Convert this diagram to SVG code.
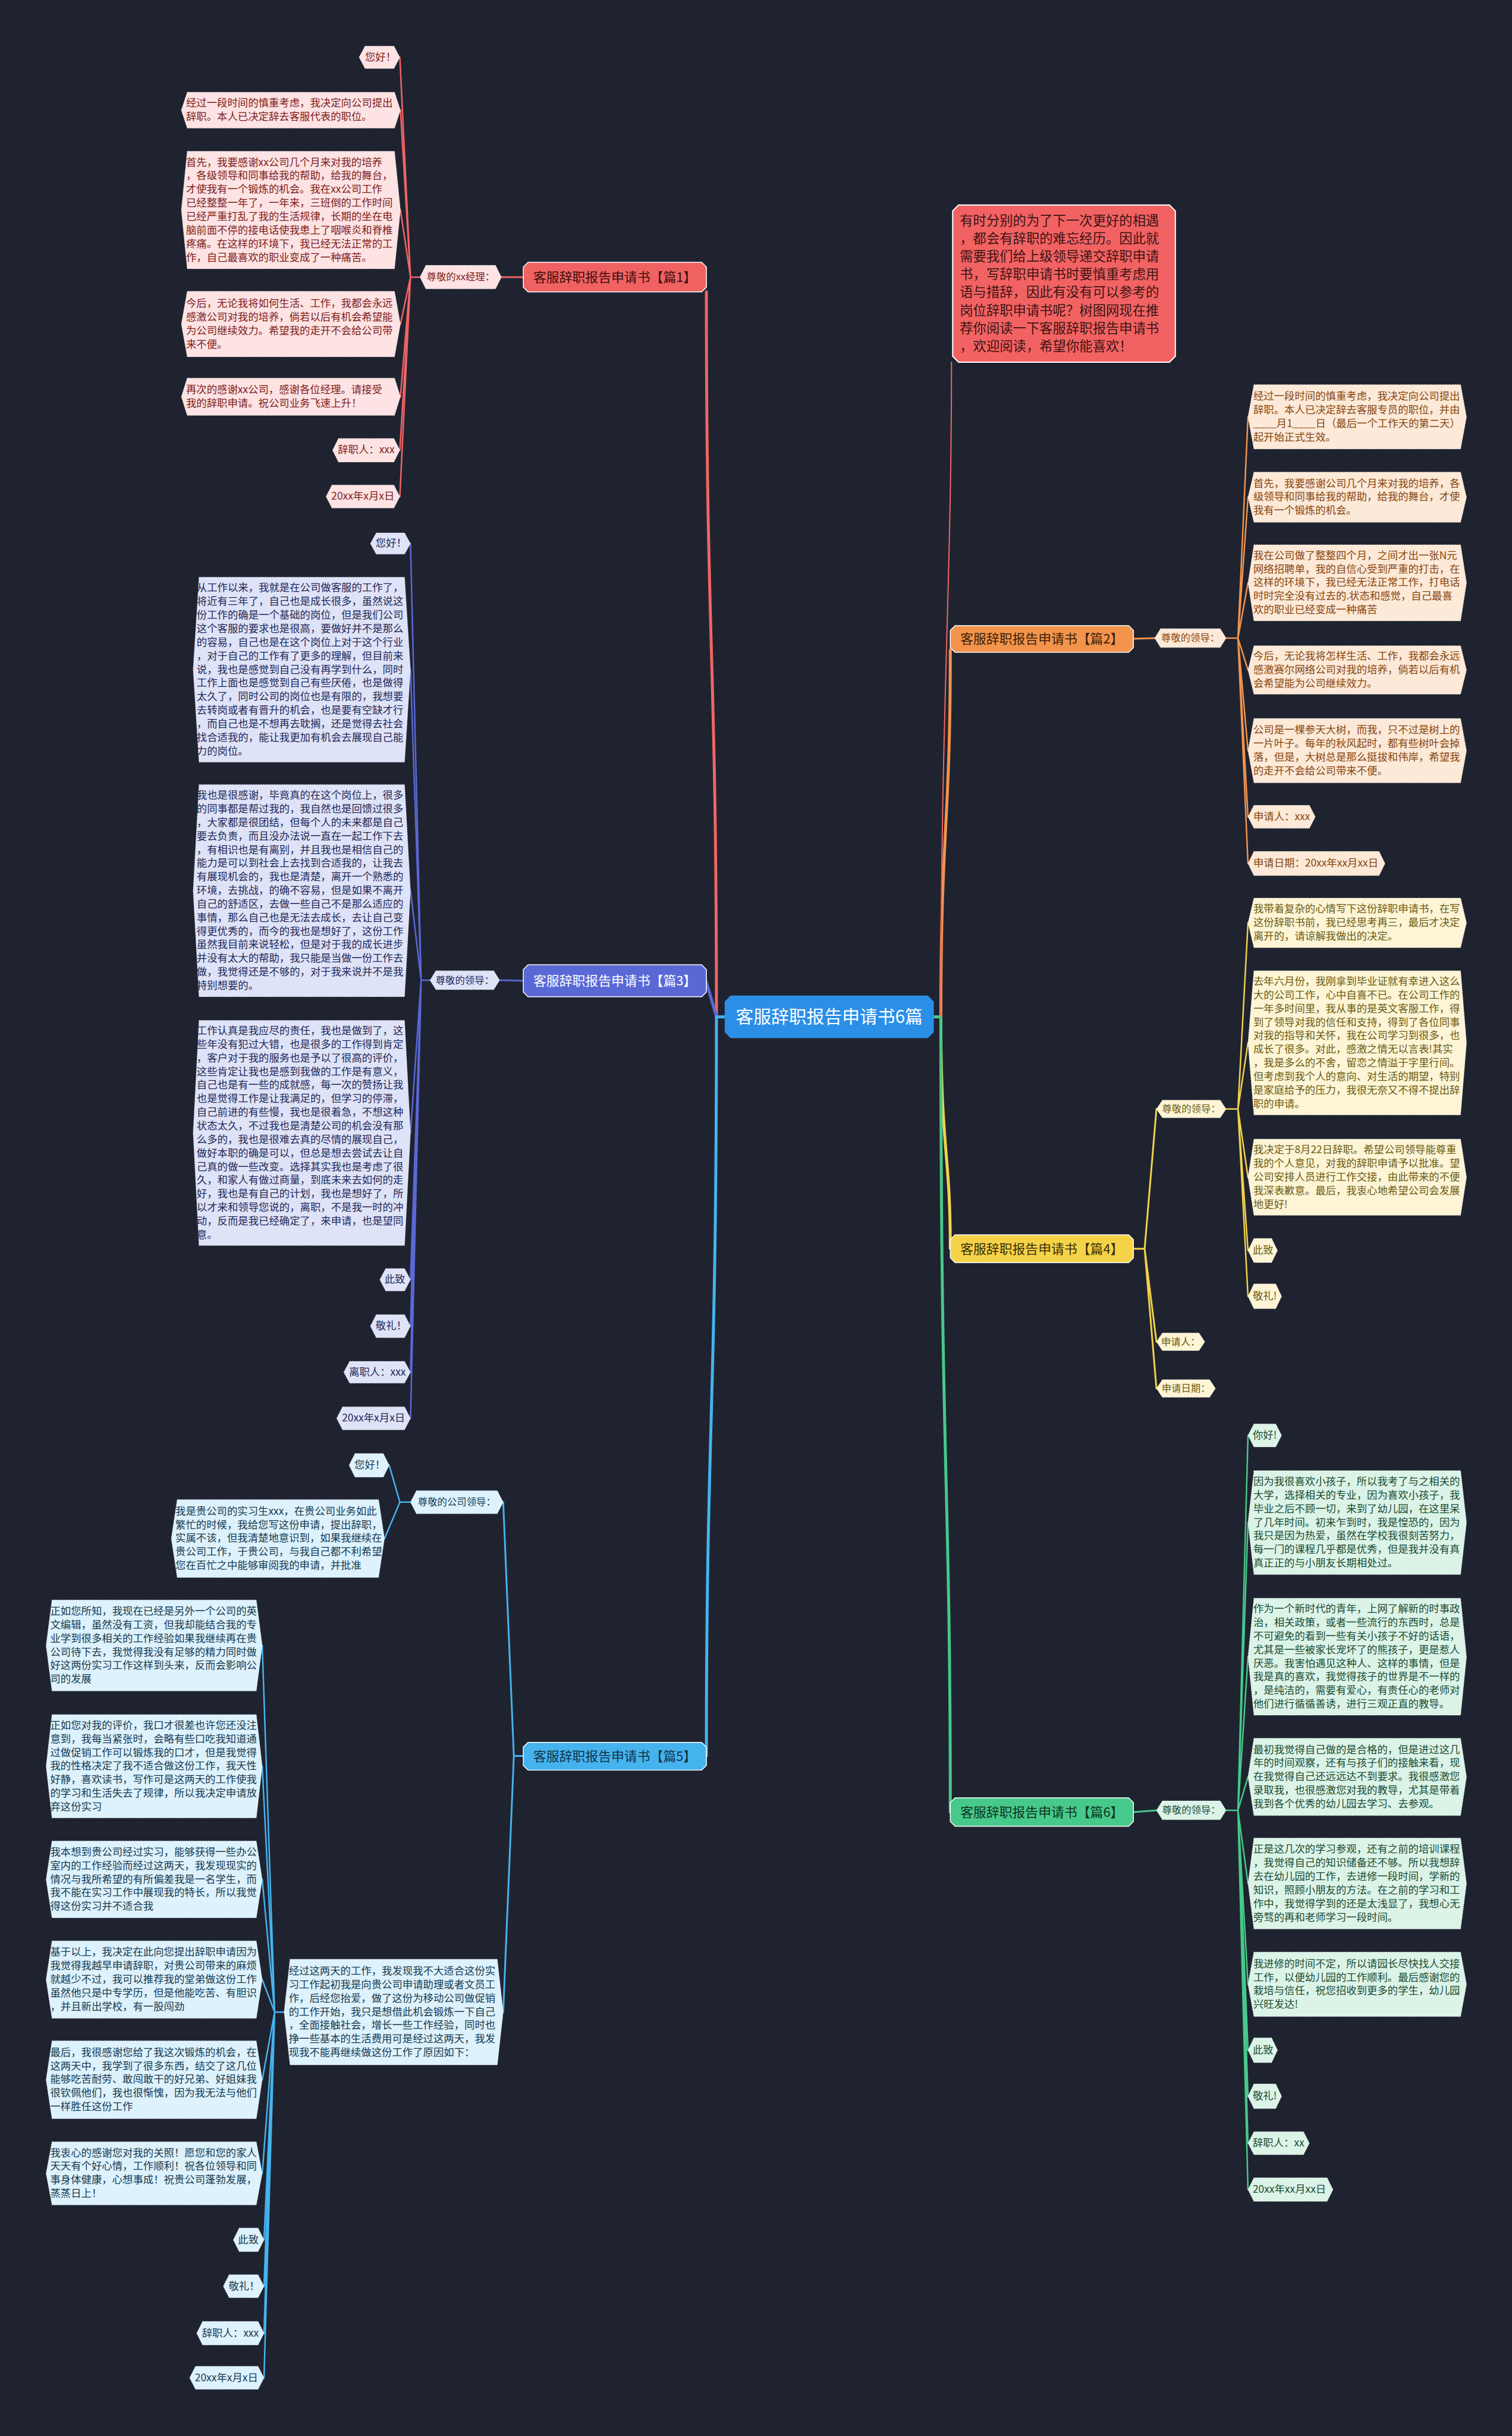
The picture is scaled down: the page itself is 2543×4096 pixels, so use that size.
<svg xmlns="http://www.w3.org/2000/svg" width="2543" height="4096" viewBox="0 0 2543 4096">
<style>
.t{font-family:"Noto Sans CJK SC","Noto Sans",sans-serif;}
.lf{font-size:17.5px;}
.lb{font-size:16.5px;}
.br{font-size:22px;}
.hx{stroke:#ffffff;stroke-opacity:.6;stroke-width:1;stroke-dasharray:2 2;}
.oc{stroke:#ffffff;stroke-width:1.5;}
.c1 .hx{fill:#fde3e3}.c1 text{fill:#7d1c1c}
.c2 .hx{fill:#fde9d7}.c2 text{fill:#86450f}
.c3 .hx{fill:#dfe3f7}.c3 text{fill:#1e2858}
.c4 .hx{fill:#fdf5d6}.c4 text{fill:#6b5a12}
.c5 .hx{fill:#ddf2fd}.c5 text{fill:#16394f}
.c6 .hx{fill:#dcf4e8}.c6 text{fill:#1a4a32}
.ln{fill:none;stroke-linecap:round;stroke-linejoin:round}
.r{stroke:#f06565}.o{stroke:#f2944c}.p{stroke:#5a68d6}.y{stroke:#f2d24a}.b{stroke:#45b3ee}.g{stroke:#46c98a}
.w5{stroke-width:5}.w3{stroke-width:3}.w2{stroke-width:2.5}
</style>
<rect x="0" y="0" width="2543" height="4096" fill="#1f2330"/>
<g transform="scale(0.99336 0.99345)">
<g id="connectors">
<path class="ln b w5" d="M1227,1721 L1213,1721"/>
<path class="ln g w5" d="M1581,1721 L1593,1721"/>
<path class="ln r w5" d="M1213,1721 C1213,1100 1196,1100 1196,494"/>
<path class="ln p w5" d="M1213,1721 L1196,1662"/>
<path class="ln b w5" d="M1213,1721 C1213,2400 1196,2400 1196,2972"/>
<path class="ln o w5" d="M1593,1721 C1593,1400 1609,1400 1609,1100"/>
<path class="ln y w5" d="M1593,1721 C1593,1950 1609,1950 1609,2113"/>
<path class="ln g w5" d="M1593,1721 C1593,2500 1609,2500 1609,3067"/>
<path class="ln r" stroke-width="2" d="M1593,1721 C1593,1200 1611,1000 1611,613"/>
<path class="ln r w3" d="M886,469 L849,469"/>
<path class="ln r w2" d="M711,469 L695,469 M695,469 L677,97 M695,469 L678,186.5 M695,469 L678,355.5 M695,469 L678,548.5 M695,469 L678,671.5 M695,469 L677,762 M695,469 L677,840.5"/>
<path class="ln p w3" d="M886,1660 L846,1659"/>
<path class="ln p w2" d="M728,1659 L713,1659 M713,1659 L695,920 M713,1659 L695,1133.5 M713,1659 L695,1507.5 M713,1659 L695,1917.5 M713,1659 L695,2166 M713,1659 L695,2244.5 M713,1659 L695,2322.5 M713,1659 L695,2400.5"/>
<path class="ln b w3" d="M886,2972 L870,2972 M870,2972 L852,2542.5 M870,2972 L852,3405.5"/>
<path class="ln b w2" d="M695,2542.5 L677,2542.5 M677,2542.5 L659,2480 M677,2542.5 L651,2604"/>
<path class="ln b w2" d="M481,3405.5 L465,3405.5 M465,3405.5 L444,2785 M465,3405.5 L444,2989.5 M465,3405.5 L444,3181 M465,3405.5 L444,3350.5 M465,3405.5 L444,3520 M465,3405.5 L444,3678.5 M465,3405.5 L447,3791 M465,3405.5 L447,3869.5 M465,3405.5 L447,3949 M465,3405.5 L447,4024.5"/>
<path class="ln o w3" d="M1919,1081 L1955,1080"/>
<path class="ln o w2" d="M2076,1080 L2096,1080 M2096,1080 L2113,705.5 M2096,1080 L2113,841.5 M2096,1080 L2113,986.5 M2096,1080 L2113,1134 M2096,1080 L2113,1270.5 M2096,1080 L2113,1382.5 M2096,1080 L2113,1461.5"/>
<path class="ln y w3" d="M1919,2113.5 L1938,2113.5 M1938,2113.5 L1958,1877 M1938,2113.5 L1958,2271 M1938,2113.5 L1958,2350"/>
<path class="ln y w2" d="M2076,1877 L2096,1877 M2096,1877 L2113,1562 M2096,1877 L2113,1765 M2096,1877 L2113,1992.5 M2096,1877 L2113,2116.5 M2096,1877 L2113,2194"/>
<path class="ln g w3" d="M1919,3067 L1958,3064"/>
<path class="ln g w2" d="M2076,3064 L2096,3064 M2096,3064 L2113,2429.5 M2096,3064 L2113,2577 M2096,3064 L2113,2804 M2096,3064 L2113,3007.5 M2096,3064 L2113,3188 M2096,3064 L2113,3358.5 M2096,3064 L2113,3470 M2096,3064 L2113,3548 M2096,3064 L2113,3627.5 M2096,3064 L2113,3706"/>
</g>

<g id="center">
<polygon points="1237,1685 1571,1685 1581,1695 1581,1747 1571,1757 1237,1757 1227,1747 1227,1695" fill="#2b8fe8"/>
<text class="t" x="1404" y="1731" font-size="30" fill="#ffffff" text-anchor="middle">客服辞职报告申请书6篇</text>
</g>

<g id="intro">
<polygon points="1623,347 1980,347 1990,357 1990,603 1980,613 1623,613 1613,603 1613,357" fill="#f26262" stroke="#ffffff" stroke-width="2"/>
<text class="t" x="1625" y="381" font-size="22.5" fill="#3b1414"><tspan x="1625">有时分别的为了下一次更好的相遇</tspan><tspan x="1625" dy="30.4">，都会有辞职的难忘经历。因此就</tspan><tspan x="1625" dy="30.4">需要我们给上级领导递交辞职申请</tspan><tspan x="1625" dy="30.4">书，写辞职申请书时要慎重考虑用</tspan><tspan x="1625" dy="30.4">语与措辞，因此有没有可以参考的</tspan><tspan x="1625" dy="30.4">岗位辞职申请书呢？树图网现在推</tspan><tspan x="1625" dy="30.4">荐你阅读一下客服辞职报告申请书</tspan><tspan x="1625" dy="30.4">，欢迎阅读，希望你能喜欢！</tspan></text>
</g>

<!-- Section 1 -->
<g id="branch1">
<polygon class="oc" points="894,444 1188,444 1196,452 1196,486 1188,494 894,494 886,486 886,452" fill="#f06262"/>
<text class="t br" x="1041" y="477" fill="#3a0e0e" text-anchor="middle">客服辞职报告申请书【篇1】</text>
</g>
<g id="s1-label" class="c1">
<polygon class="hx" points="721,449 839,449 849,469 839,489 721,489 711,469"/>
<text class="t lb" x="780" y="474.5" text-anchor="middle">尊敬的xx经理：</text>
</g>
<g id="s1-a" class="c1">
<polygon class="hx" points="618,78 667,78 677,97 667,116 618,116 608,97"/>
<text class="t lf" x="618" y="103">您好！</text>
</g>
<g id="s1-b" class="c1">
<polygon class="hx" points="317,156 668,156 678,186.5 668,217 317,217 307,186.5"/>
<text class="t lf" x="315" y="180.5"><tspan x="315">经过一段时间的慎重考虑，我决定向公司提出</tspan><tspan x="315" dy="23">辞职。本人已决定辞去客服代表的职位。</tspan></text>
</g>
<g id="s1-c" class="c1">
<polygon class="hx" points="317,256 668,256 678,355.5 668,455 317,455 307,355.5"/>
<text class="t lf" x="315" y="280.5"><tspan x="315">首先，我要感谢xx公司几个月来对我的培养</tspan><tspan x="315" dy="23">，各级领导和同事给我的帮助，给我的舞台，</tspan><tspan x="315" dy="23">才使我有一个锻炼的机会。我在xx公司工作</tspan><tspan x="315" dy="23">已经整整一年了，一年来，三班倒的工作时间</tspan><tspan x="315" dy="23">已经严重打乱了我的生活规律，长期的坐在电</tspan><tspan x="315" dy="23">脑前面不停的接电话使我患上了咽喉炎和脊椎</tspan><tspan x="315" dy="23">疼痛。在这样的环境下，我已经无法正常的工</tspan><tspan x="315" dy="23">作，自己最喜欢的职业变成了一种痛苦。</tspan></text>
</g>
<g id="s1-d" class="c1">
<polygon class="hx" points="317,493 668,493 678,548.5 668,604 317,604 307,548.5"/>
<text class="t lf" x="315" y="519.5"><tspan x="315">今后，无论我将如何生活、工作，我都会永远</tspan><tspan x="315" dy="23">感激公司对我的培养，倘若以后有机会希望能</tspan><tspan x="315" dy="23">为公司继续效力。希望我的走开不会给公司带</tspan><tspan x="315" dy="23">来不便。</tspan></text>
</g>
<g id="s1-e" class="c1">
<polygon class="hx" points="317,640 668,640 678,671.5 668,703 317,703 307,671.5"/>
<text class="t lf" x="315" y="665.5"><tspan x="315">再次的感谢xx公司，感谢各位经理。请接受</tspan><tspan x="315" dy="23">我的辞职申请。祝公司业务飞速上升！</tspan></text>
</g>
<g id="s1-f" class="c1">
<polygon class="hx" points="573,742 667,742 677,762 667,782 573,782 563,762"/>
<text class="t lf" x="572" y="767.5">辞职人：xxx</text>
</g>
<g id="s1-g" class="c1">
<polygon class="hx" points="562,821 667,821 677,840.5 667,860 562,860 552,840.5"/>
<text class="t lf" x="561" y="846">20xx年x月x日</text>
</g>

<!-- Section 3 -->
<g id="branch3">
<polygon class="oc" points="894,1633 1188,1633 1196,1641 1196,1679 1188,1687 894,1687 886,1679 886,1641" fill="#5a68d6"/>
<text class="t br" x="1041" y="1668" fill="#ffffff" text-anchor="middle">客服辞职报告申请书【篇3】</text>
</g>
<g id="s3-label" class="c3">
<polygon class="hx" points="738,1643 836,1643 846,1659 836,1675 738,1675 728,1659"/>
<text class="t lb" x="787" y="1664.5" text-anchor="middle">尊敬的领导：</text>
</g>
<g id="s3-a" class="c3">
<polygon class="hx" points="637,902 685,902 695,920 685,938 637,938 627,920"/>
<text class="t lf" x="636" y="925.5">您好！</text>
</g>
<g id="s3-b" class="c3">
<polygon class="hx" points="337,977 685,977 695,1133.5 685,1290 337,1290 327,1133.5"/>
<text class="t lf" x="333" y="1001"><tspan x="333">从工作以来，我就是在公司做客服的工作了，</tspan><tspan x="333" dy="23">将近有三年了，自己也是成长很多，虽然说这</tspan><tspan x="333" dy="23">份工作的确是一个基础的岗位，但是我们公司</tspan><tspan x="333" dy="23">这个客服的要求也是很高，要做好并不是那么</tspan><tspan x="333" dy="23">的容易，自己也是在这个岗位上对于这个行业</tspan><tspan x="333" dy="23">，对于自己的工作有了更多的理解，但目前来</tspan><tspan x="333" dy="23">说，我也是感觉到自己没有再学到什么，同时</tspan><tspan x="333" dy="23">工作上面也是感觉到自己有些厌倦，也是做得</tspan><tspan x="333" dy="23">太久了，同时公司的岗位也是有限的，我想要</tspan><tspan x="333" dy="23">去转岗或者有晋升的机会，也是要有空缺才行</tspan><tspan x="333" dy="23">，而自己也是不想再去耽搁，还是觉得去社会</tspan><tspan x="333" dy="23">找合适我的，能让我更加有机会去展现自己能</tspan><tspan x="333" dy="23">力的岗位。</tspan></text>
</g>
<g id="s3-c" class="c3">
<polygon class="hx" points="337,1328 685,1328 695,1507.5 685,1687 337,1687 327,1507.5"/>
<text class="t lf" x="333" y="1352"><tspan x="333">我也是很感谢，毕竟真的在这个岗位上，很多</tspan><tspan x="333" dy="23">的同事都是帮过我的，我自然也是回馈过很多</tspan><tspan x="333" dy="23">，大家都是很团结，但每个人的未来都是自己</tspan><tspan x="333" dy="23">要去负责，而且没办法说一直在一起工作下去</tspan><tspan x="333" dy="23">，有相识也是有离别，并且我也是相信自己的</tspan><tspan x="333" dy="23">能力是可以到社会上去找到合适我的，让我去</tspan><tspan x="333" dy="23">有展现机会的，我也是清楚，离开一个熟悉的</tspan><tspan x="333" dy="23">环境，去挑战，的确不容易，但是如果不离开</tspan><tspan x="333" dy="23">自己的舒适区，去做一些自己不是那么适应的</tspan><tspan x="333" dy="23">事情，那么自己也是无法去成长，去让自己变</tspan><tspan x="333" dy="23">得更优秀的，而今的我也是想好了，这份工作</tspan><tspan x="333" dy="23">虽然我目前来说轻松，但是对于我的成长进步</tspan><tspan x="333" dy="23">并没有太大的帮助，我只能是当做一份工作去</tspan><tspan x="333" dy="23">做，我觉得还是不够的，对于我来说并不是我</tspan><tspan x="333" dy="23">特别想要的。</tspan></text>
</g>
<g id="s3-d" class="c3">
<polygon class="hx" points="337,1727 685,1727 695,1917.5 685,2108 337,2108 327,1917.5"/>
<text class="t lf" x="333" y="1750.5"><tspan x="333">工作认真是我应尽的责任，我也是做到了，这</tspan><tspan x="333" dy="23">些年没有犯过大错，也是很多的工作得到肯定</tspan><tspan x="333" dy="23">，客户对于我的服务也是予以了很高的评价，</tspan><tspan x="333" dy="23">这些肯定让我也是感到我做的工作是有意义，</tspan><tspan x="333" dy="23">自己也是有一些的成就感，每一次的赞扬让我</tspan><tspan x="333" dy="23">也是觉得工作是让我满足的，但学习的停滞，</tspan><tspan x="333" dy="23">自己前进的有些慢，我也是很着急，不想这种</tspan><tspan x="333" dy="23">状态太久，不过我也是清楚公司的机会没有那</tspan><tspan x="333" dy="23">么多的，我也是很难去真的尽情的展现自己，</tspan><tspan x="333" dy="23">做好本职的确是可以，但总是想去尝试去让自</tspan><tspan x="333" dy="23">己真的做一些改变。选择其实我也是考虑了很</tspan><tspan x="333" dy="23">久，和家人有做过商量，到底未来去如何的走</tspan><tspan x="333" dy="23">好，我也是有自己的计划，我也是想好了，所</tspan><tspan x="333" dy="23">以才来和领导您说的，离职，不是我一时的冲</tspan><tspan x="333" dy="23">动，反而是我已经确定了，来申请，也是望同</tspan><tspan x="333" dy="23">意。</tspan></text>
</g>
<g id="s3-e" class="c3">
<polygon class="hx" points="653,2147 685,2147 695,2166 685,2185 653,2185 643,2166"/>
<text class="t lf" x="651" y="2171.5">此致</text>
</g>
<g id="s3-f" class="c3">
<polygon class="hx" points="637,2225 685,2225 695,2244.5 685,2264 637,2264 627,2244.5"/>
<text class="t lf" x="636" y="2250">敬礼！</text>
</g>
<g id="s3-g" class="c3">
<polygon class="hx" points="592,2304 685,2304 695,2322.5 685,2341 592,2341 582,2322.5"/>
<text class="t lf" x="591" y="2328">离职人：xxx</text>
</g>
<g id="s3-h" class="c3">
<polygon class="hx" points="580,2381 685,2381 695,2400.5 685,2420 580,2420 570,2400.5"/>
<text class="t lf" x="579" y="2406">20xx年x月x日</text>
</g>

<!-- Section 5 -->
<g id="branch5">
<polygon class="oc" points="894,2949 1188,2949 1196,2957 1196,2988 1188,2996 894,2996 886,2988 886,2957" fill="#45b3ee"/>
<text class="t br" x="1041" y="2980.5" fill="#10324a" text-anchor="middle">客服辞职报告申请书【篇5】</text>
</g>
<g id="s5-label" class="c5">
<polygon class="hx" points="705,2523 842,2523 852,2542.5 842,2562 705,2562 695,2542.5"/>
<text class="t lb" x="773.5" y="2548" text-anchor="middle">尊敬的公司领导：</text>
</g>
<g id="s5-a" class="c5">
<polygon class="hx" points="601,2460 649,2460 659,2480 649,2500 601,2500 591,2480"/>
<text class="t lf" x="600" y="2485.5">您好！</text>
</g>
<g id="s5-b" class="c5">
<polygon class="hx" points="300,2538 641,2538 651,2604 641,2670 300,2670 290,2604"/>
<text class="t lf" x="297" y="2563.5"><tspan x="297">我是贵公司的实习生xxx，在贵公司业务如此</tspan><tspan x="297" dy="23">繁忙的时候，我给您写这份申请，提出辞职，</tspan><tspan x="297" dy="23">实属不该，但我清楚地意识到，如果我继续在</tspan><tspan x="297" dy="23">贵公司工作，于贵公司，与我自己都不利希望</tspan><tspan x="297" dy="23">您在百忙之中能够审阅我的申请，并批准</tspan></text>
</g>
<g id="s5-m" class="c5">
<polygon class="hx" points="491,3316 842,3316 852,3405.5 842,3495 491,3495 481,3405.5"/>
<text class="t lf" x="489" y="3342"><tspan x="489">经过这两天的工作，我发现我不大适合这份实</tspan><tspan x="489" dy="23">习工作起初我是向贵公司申请助理或者文员工</tspan><tspan x="489" dy="23">作，后经您抬爱，做了这份为移动公司做促销</tspan><tspan x="489" dy="23">的工作开始，我只是想借此机会锻炼一下自己</tspan><tspan x="489" dy="23">，全面接触社会，增长一些工作经验，同时也</tspan><tspan x="489" dy="23">挣一些基本的生活费用可是经过这两天，我发</tspan><tspan x="489" dy="23">现我不能再继续做这份工作了原因如下：</tspan></text>
</g>
<g id="s5-c" class="c5">
<polygon class="hx" points="88,2708 434,2708 444,2785 434,2862 88,2862 78,2785"/>
<text class="t lf" x="85" y="2733"><tspan x="85">正如您所知，我现在已经是另外一个公司的英</tspan><tspan x="85" dy="23">文编辑，虽然没有工资，但我却能结合我的专</tspan><tspan x="85" dy="23">业学到很多相关的工作经验如果我继续再在贵</tspan><tspan x="85" dy="23">公司待下去，我觉得我没有足够的精力同时做</tspan><tspan x="85" dy="23">好这两份实习工作这样到头来，反而会影响公</tspan><tspan x="85" dy="23">司的发展</tspan></text>
</g>
<g id="s5-d" class="c5">
<polygon class="hx" points="88,2902 434,2902 444,2989.5 434,3077 88,3077 78,2989.5"/>
<text class="t lf" x="85" y="2926"><tspan x="85">正如您对我的评价，我口才很差也许您还没注</tspan><tspan x="85" dy="23">意到，我每当紧张时，会略有些口吃我知道通</tspan><tspan x="85" dy="23">过做促销工作可以锻炼我的口才，但是我觉得</tspan><tspan x="85" dy="23">我的性格决定了我不适合做这份工作，我天性</tspan><tspan x="85" dy="23">好静，喜欢读书，写作可是这两天的工作使我</tspan><tspan x="85" dy="23">的学习和生活失去了规律，所以我决定申请放</tspan><tspan x="85" dy="23">弃这份实习</tspan></text>
</g>
<g id="s5-e" class="c5">
<polygon class="hx" points="88,3116 434,3116 444,3181 434,3246 88,3246 78,3181"/>
<text class="t lf" x="85" y="3140.5"><tspan x="85">我本想到贵公司经过实习，能够获得一些办公</tspan><tspan x="85" dy="23">室内的工作经验而经过这两天，我发现现实的</tspan><tspan x="85" dy="23">情况与我所希望的有所偏差我是一名学生，而</tspan><tspan x="85" dy="23">我不能在实习工作中展现我的特长，所以我觉</tspan><tspan x="85" dy="23">得这份实习并不适合我</tspan></text>
</g>
<g id="s5-f" class="c5">
<polygon class="hx" points="88,3285 434,3285 444,3350.5 434,3416 88,3416 78,3350.5"/>
<text class="t lf" x="85" y="3310"><tspan x="85">基于以上，我决定在此向您提出辞职申请因为</tspan><tspan x="85" dy="23">我觉得我越早申请辞职，对贵公司带来的麻烦</tspan><tspan x="85" dy="23">就越少不过，我可以推荐我的堂弟做这份工作</tspan><tspan x="85" dy="23">虽然他只是中专学历，但是他能吃苦、有胆识</tspan><tspan x="85" dy="23">，并且新出学校，有一股闯劲</tspan></text>
</g>
<g id="s5-g" class="c5">
<polygon class="hx" points="88,3454 434,3454 444,3520 434,3586 88,3586 78,3520"/>
<text class="t lf" x="85" y="3479.5"><tspan x="85">最后，我很感谢您给了我这次锻炼的机会，在</tspan><tspan x="85" dy="23">这两天中，我学到了很多东西，结交了这几位</tspan><tspan x="85" dy="23">能够吃苦耐劳、敢闯敢干的好兄弟、好姐妹我</tspan><tspan x="85" dy="23">很钦佩他们，我也很惭愧，因为我无法与他们</tspan><tspan x="85" dy="23">一样胜任这份工作</tspan></text>
</g>
<g id="s5-h" class="c5">
<polygon class="hx" points="88,3625 434,3625 444,3678.5 434,3732 88,3732 78,3678.5"/>
<text class="t lf" x="85" y="3649.5"><tspan x="85">我衷心的感谢您对我的关照！愿您和您的家人</tspan><tspan x="85" dy="23">天天有个好心情，工作顺利！祝各位领导和同</tspan><tspan x="85" dy="23">事身体健康，心想事成！祝贵公司蓬勃发展，</tspan><tspan x="85" dy="23">蒸蒸日上！</tspan></text>
</g>
<g id="s5-i" class="c5">
<polygon class="hx" points="405,3771 437,3771 447,3791 437,3811 405,3811 395,3791"/>
<text class="t lf" x="403" y="3796.5">此致</text>
</g>
<g id="s5-j" class="c5">
<polygon class="hx" points="388,3850 437,3850 447,3869.5 437,3889 388,3889 378,3869.5"/>
<text class="t lf" x="387" y="3875">敬礼！</text>
</g>
<g id="s5-k" class="c5">
<polygon class="hx" points="343,3929 437,3929 447,3949 437,3969 343,3969 333,3949"/>
<text class="t lf" x="342" y="3954.5">辞职人：xxx</text>
</g>
<g id="s5-l" class="c5">
<polygon class="hx" points="331,4005 437,4005 447,4024.5 437,4044 331,4044 321,4024.5"/>
<text class="t lf" x="330" y="4030">20xx年x月x日</text>
</g>

<!-- Section 2 -->
<g id="branch2">
<polygon class="oc" points="1617,1059 1911,1059 1919,1067 1919,1096 1911,1104 1617,1104 1609,1096 1609,1067" fill="#f2944c"/>
<text class="t br" x="1764" y="1089.5" fill="#3e1c05" text-anchor="middle">客服辞职报告申请书【篇2】</text>
</g>
<g id="s2-label" class="c2">
<polygon class="hx" points="1965,1064 2066,1064 2076,1080 2066,1096 1965,1096 1955,1080"/>
<text class="t lb" x="2015.5" y="1085.5" text-anchor="middle">尊敬的领导：</text>
</g>
<g id="s2-a" class="c2">
<polygon class="hx" points="2123,651 2473,651 2483,705.5 2473,760 2123,760 2113,705.5"/>
<text class="t lf" x="2122" y="676.5"><tspan x="2122">经过一段时间的慎重考虑，我决定向公司提出</tspan><tspan x="2122" dy="23">辞职。本人已决定辞去客服专员的职位，并由</tspan><tspan x="2122" dy="23">____月1____日（最后一个工作天的第二天）</tspan><tspan x="2122" dy="23">起开始正式生效。</tspan></text>
</g>
<g id="s2-b" class="c2">
<polygon class="hx" points="2123,799 2473,799 2483,841.5 2473,884 2123,884 2113,841.5"/>
<text class="t lf" x="2122" y="824"><tspan x="2122">首先，我要感谢公司几个月来对我的培养，各</tspan><tspan x="2122" dy="23">级领导和同事给我的帮助，给我的舞台，才使</tspan><tspan x="2122" dy="23">我有一个锻炼的机会。</tspan></text>
</g>
<g id="s2-c" class="c2">
<polygon class="hx" points="2123,922 2473,922 2483,986.5 2473,1051 2123,1051 2113,986.5"/>
<text class="t lf" x="2122" y="946"><tspan x="2122">我在公司做了整整四个月，之间才出一张N元</tspan><tspan x="2122" dy="23">网络招聘单，我的自信心受到严重的打击，在</tspan><tspan x="2122" dy="23">这样的环境下，我已经无法正常工作，打电话</tspan><tspan x="2122" dy="23">时时完全没有过去的.状态和感觉，自己最喜</tspan><tspan x="2122" dy="23">欢的职业已经变成一种痛苦</tspan></text>
</g>
<g id="s2-d" class="c2">
<polygon class="hx" points="2123,1093 2473,1093 2483,1134 2473,1175 2123,1175 2113,1134"/>
<text class="t lf" x="2122" y="1116.5"><tspan x="2122">今后，无论我将怎样生活、工作，我都会永远</tspan><tspan x="2122" dy="23">感激赛尔网络公司对我的培养，倘若以后有机</tspan><tspan x="2122" dy="23">会希望能为公司继续效力。</tspan></text>
</g>
<g id="s2-e" class="c2">
<polygon class="hx" points="2123,1216 2473,1216 2483,1270.5 2473,1325 2123,1325 2113,1270.5"/>
<text class="t lf" x="2122" y="1241.5"><tspan x="2122">公司是一棵参天大树，而我，只不过是树上的</tspan><tspan x="2122" dy="23">一片叶子。每年的秋风起时，都有些树叶会掉</tspan><tspan x="2122" dy="23">落，但是，大树总是那么挺拔和伟岸，希望我</tspan><tspan x="2122" dy="23">的走开不会给公司带来不便。</tspan></text>
</g>
<g id="s2-f" class="c2">
<polygon class="hx" points="2123,1363 2217,1363 2227,1382.5 2217,1402 2123,1402 2113,1382.5"/>
<text class="t lf" x="2122" y="1388">申请人：xxx</text>
</g>
<g id="s2-g" class="c2">
<polygon class="hx" points="2123,1441 2335,1441 2345,1461.5 2335,1482 2123,1482 2113,1461.5"/>
<text class="t lf" x="2122" y="1467">申请日期：20xx年xx月xx日</text>
</g>

<!-- Section 4 -->
<g id="branch4">
<polygon class="oc" points="1617,2090 1911,2090 1919,2098 1919,2129 1911,2137 1617,2137 1609,2129 1609,2098" fill="#f5d349"/>
<text class="t br" x="1764" y="2121.5" fill="#3a2e05" text-anchor="middle">客服辞职报告申请书【篇4】</text>
</g>
<g id="s4-label" class="c4">
<polygon class="hx" points="1968,1862 2066,1862 2076,1877 2066,1892 1968,1892 1958,1877"/>
<text class="t lb" x="2017" y="1882.5" text-anchor="middle">尊敬的领导：</text>
</g>
<g id="s4-m" class="c4">
<polygon class="hx" points="1968,2256 2030,2256 2040,2271 2030,2286 1968,2286 1958,2271"/>
<text class="t lb" x="1999" y="2276.5" text-anchor="middle">申请人：</text>
</g>
<g id="s4-n" class="c4">
<polygon class="hx" points="1968,2335 2048,2335 2058,2350 2048,2365 1968,2365 1958,2350"/>
<text class="t lb" x="2008" y="2355.5" text-anchor="middle">申请日期：</text>
</g>
<g id="s4-a" class="c4">
<polygon class="hx" points="2123,1520 2473,1520 2483,1562 2473,1604 2123,1604 2113,1562"/>
<text class="t lf" x="2122" y="1544.5"><tspan x="2122">我带着复杂的心情写下这份辞职申请书，在写</tspan><tspan x="2122" dy="23">这份辞职书前，我已经思考再三，最后才决定</tspan><tspan x="2122" dy="23">离开的，请谅解我做出的决定。</tspan></text>
</g>
<g id="s4-b" class="c4">
<polygon class="hx" points="2123,1643 2473,1643 2483,1765 2473,1887 2123,1887 2113,1765"/>
<text class="t lf" x="2122" y="1667"><tspan x="2122">去年六月份，我刚拿到毕业证就有幸进入这么</tspan><tspan x="2122" dy="23">大的公司工作，心中自喜不已。在公司工作的</tspan><tspan x="2122" dy="23">一年多时间里，我从事的是英文客服工作，得</tspan><tspan x="2122" dy="23">到了领导对我的信任和支持，得到了各位同事</tspan><tspan x="2122" dy="23">对我的指导和关怀，我在公司学习到很多，也</tspan><tspan x="2122" dy="23">成长了很多。对此，感激之情无以言表!其实</tspan><tspan x="2122" dy="23">，我是多么的不舍，留恋之情溢于字里行间。</tspan><tspan x="2122" dy="23">但考虑到我个人的意向、对生活的期望，特别</tspan><tspan x="2122" dy="23">是家庭给予的压力，我很无奈又不得不提出辞</tspan><tspan x="2122" dy="23">职的申请。</tspan></text>
</g>
<g id="s4-c" class="c4">
<polygon class="hx" points="2123,1928 2473,1928 2483,1992.5 2473,2057 2123,2057 2113,1992.5"/>
<text class="t lf" x="2122" y="1952"><tspan x="2122">我决定于8月22日辞职。希望公司领导能尊重</tspan><tspan x="2122" dy="23">我的个人意见，对我的辞职申请予以批准。望</tspan><tspan x="2122" dy="23">公司安排人员进行工作交接，由此带来的不便</tspan><tspan x="2122" dy="23">我深表歉意。最后，我衷心地希望公司会发展</tspan><tspan x="2122" dy="23">地更好!</tspan></text>
</g>
<g id="s4-d" class="c4">
<polygon class="hx" points="2123,2096 2153,2096 2163,2116.5 2153,2137 2123,2137 2113,2116.5"/>
<text class="t lf" x="2121" y="2122">此致</text>
</g>
<g id="s4-e" class="c4">
<polygon class="hx" points="2123,2173 2160,2173 2170,2194 2160,2215 2123,2215 2113,2194"/>
<text class="t lf" x="2121" y="2199.5">敬礼!</text>
</g>

<!-- Section 6 -->
<g id="branch6">
<polygon class="oc" points="1617,3043 1911,3043 1919,3051 1919,3083 1911,3091 1617,3091 1609,3083 1609,3051" fill="#46c98a"/>
<text class="t br" x="1764" y="3075" fill="#0e3320" text-anchor="middle">客服辞职报告申请书【篇6】</text>
</g>
<g id="s6-label" class="c6">
<polygon class="hx" points="1968,3048 2066,3048 2076,3064 2066,3080 1968,3080 1958,3064"/>
<text class="t lb" x="2017" y="3069.5" text-anchor="middle">尊敬的领导：</text>
</g>
<g id="s6-a" class="c6">
<polygon class="hx" points="2123,2410 2160,2410 2170,2429.5 2160,2449 2123,2449 2113,2429.5"/>
<text class="t lf" x="2121" y="2435">你好!</text>
</g>
<g id="s6-b" class="c6">
<polygon class="hx" points="2123,2489 2473,2489 2483,2577 2473,2665 2123,2665 2113,2577"/>
<text class="t lf" x="2122" y="2513.5"><tspan x="2122">因为我很喜欢小孩子，所以我考了与之相关的</tspan><tspan x="2122" dy="23">大学，选择相关的专业，因为喜欢小孩子，我</tspan><tspan x="2122" dy="23">毕业之后不顾一切，来到了幼儿园，在这里呆</tspan><tspan x="2122" dy="23">了几年时间。初来乍到时，我是惶恐的，因为</tspan><tspan x="2122" dy="23">我只是因为热爱，虽然在学校我很刻苦努力，</tspan><tspan x="2122" dy="23">每一门的课程几乎都是优秀，但是我并没有真</tspan><tspan x="2122" dy="23">真正正的与小朋友长期相处过。</tspan></text>
</g>
<g id="s6-c" class="c6">
<polygon class="hx" points="2123,2705 2473,2705 2483,2804 2473,2903 2123,2903 2113,2804"/>
<text class="t lf" x="2122" y="2729"><tspan x="2122">作为一个新时代的青年，上网了解新的时事政</tspan><tspan x="2122" dy="23">治，相关政策，或者一些流行的东西时，总是</tspan><tspan x="2122" dy="23">不可避免的看到一些有关小孩子不好的话语，</tspan><tspan x="2122" dy="23">尤其是一些被家长宠坏了的熊孩子，更是惹人</tspan><tspan x="2122" dy="23">厌恶。我害怕遇见这种人、这样的事情，但是</tspan><tspan x="2122" dy="23">我是真的喜欢，我觉得孩子的世界是不一样的</tspan><tspan x="2122" dy="23">，是纯洁的，需要有爱心，有责任心的老师对</tspan><tspan x="2122" dy="23">他们进行循循善诱，进行三观正直的教导。</tspan></text>
</g>
<g id="s6-d" class="c6">
<polygon class="hx" points="2123,2942 2473,2942 2483,3007.5 2473,3073 2123,3073 2113,3007.5"/>
<text class="t lf" x="2122" y="2967"><tspan x="2122">最初我觉得自己做的是合格的，但是进过这几</tspan><tspan x="2122" dy="23">年的时间观察，还有与孩子们的接触来看，现</tspan><tspan x="2122" dy="23">在我觉得自己还远远达不到要求。我很感激您</tspan><tspan x="2122" dy="23">录取我，也很感激您对我的教导，尤其是带着</tspan><tspan x="2122" dy="23">我到各个优秀的幼儿园去学习、去参观。</tspan></text>
</g>
<g id="s6-e" class="c6">
<polygon class="hx" points="2123,3111 2473,3111 2483,3188 2473,3265 2123,3265 2113,3188"/>
<text class="t lf" x="2122" y="3136"><tspan x="2122">正是这几次的学习参观，还有之前的培训课程</tspan><tspan x="2122" dy="23">，我觉得自己的知识储备还不够。所以我想辞</tspan><tspan x="2122" dy="23">去在幼儿园的工作，去进修一段时间，学新的</tspan><tspan x="2122" dy="23">知识，照顾小朋友的方法。在之前的学习和工</tspan><tspan x="2122" dy="23">作中，我觉得学到的还是太浅显了，我想心无</tspan><tspan x="2122" dy="23">旁骛的再和老师学习一段时间。</tspan></text>
</g>
<g id="s6-f" class="c6">
<polygon class="hx" points="2123,3304 2473,3304 2483,3358.5 2473,3413 2123,3413 2113,3358.5"/>
<text class="t lf" x="2122" y="3329.5"><tspan x="2122">我进修的时间不定，所以请园长尽快找人交接</tspan><tspan x="2122" dy="23">工作，以便幼儿园的工作顺利。最后感谢您的</tspan><tspan x="2122" dy="23">栽培与信任，祝您招收到更多的学生，幼儿园</tspan><tspan x="2122" dy="23">兴旺发达!</tspan></text>
</g>
<g id="s6-g" class="c6">
<polygon class="hx" points="2123,3449 2153,3449 2163,3470 2153,3491 2123,3491 2113,3470"/>
<text class="t lf" x="2121" y="3475.5">此致</text>
</g>
<g id="s6-h" class="c6">
<polygon class="hx" points="2123,3527 2160,3527 2170,3548 2160,3569 2123,3569 2113,3548"/>
<text class="t lf" x="2121" y="3553.5">敬礼!</text>
</g>
<g id="s6-i" class="c6">
<polygon class="hx" points="2123,3608 2207,3608 2217,3627.5 2207,3647 2123,3647 2113,3627.5"/>
<text class="t lf" x="2121" y="3633">辞职人：xx</text>
</g>
<g id="s6-j" class="c6">
<polygon class="hx" points="2123,3686 2247,3686 2257,3706 2247,3726 2123,3726 2113,3706"/>
<text class="t lf" x="2121" y="3711.5">20xx年xx月xx日</text>
</g>
</g>
</svg>
